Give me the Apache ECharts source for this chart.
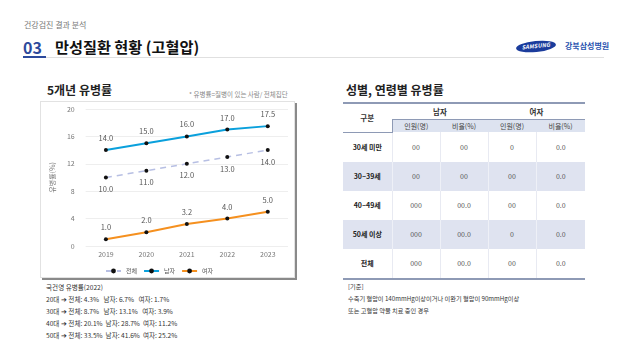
<!DOCTYPE html>
<html><head><meta charset="utf-8">
<script src="https://cdn.jsdelivr.net/npm/echarts@6/dist/echarts.min.js"></script>
<style>
html,body{margin:0;padding:0;width:625px;height:356px;background:#fff;overflow:hidden;font-family:"Noto Sans CJK KR","Noto Sans",sans-serif;}
.abs{position:absolute;white-space:nowrap;}
#chart{position:absolute;left:40px;top:101px;width:253px;height:175px;border:1px solid #e2e2e2;box-shadow:2px 2px 0 #8a8a8a;background:#fff;}
table{border-collapse:collapse;position:absolute;left:343px;top:102px;width:242px;table-layout:fixed;font-size:7px;color:#555;}
td{text-align:center;padding:0;}
.hd1 td{height:15px;font-weight:bold;color:#333;font-size:7.5px;}
.hd2 td{height:12px;background:#dde3f0;color:#444;border-top:1.5px solid #8e9ab5;font-size:7px;}
.row td{height:29px;color:#555;}
.row td.lab{font-weight:bold;color:#222;}
.row td+td{border-left:1px solid #e8eaf2;}
.sh td{background:#dfe3f0;}
.sh td+td{border-left:1px solid #eef0f7;}
.note{font-size:6.8px;color:#333;}
</style></head><body>
<div class="abs" style="left:24px;top:19px;font-size:8px;color:#777;">건강검진 결과 분석</div>
<div class="abs" style="left:23px;top:35px;font-size:16px;font-weight:bold;color:#2c4a9c;">03</div>
<div class="abs" style="left:55px;top:35px;font-size:15.2px;font-weight:bold;color:#111;">만성질환 현황 (고혈압)</div>
<div class="abs" style="left:23px;top:56px;width:23px;height:2px;background:#2c4a9c;"></div>
<div class="abs" style="left:46px;top:56.5px;width:558px;height:1px;background:#e0e0e0;"></div>
<div class="abs" style="left:516px;top:41px;width:40px;height:11px;border-radius:50%;background:#1b3c9c;transform:rotate(-6deg);color:#fff;font-size:5.5px;font-weight:bold;font-style:italic;text-align:center;line-height:11px;letter-spacing:0.2px;">SAMSUNG</div>
<div class="abs" style="left:565px;top:40px;font-size:8px;font-weight:bold;color:#2b55b0;">강북삼성병원</div>

<div class="abs" style="left:47px;top:81px;font-size:12px;font-weight:bold;color:#222;">5개년 유병률</div>
<div class="abs" style="left:189px;top:89px;font-size:6.5px;color:#888;">* 유병률=질병이 있는 사람/ 전체집단</div>
<div class="abs" style="left:346px;top:81px;font-size:12px;font-weight:bold;color:#222;">성별, 연령별 유병률</div>

<div id="chart"></div>

<div id="notesL"></div>
<div id="notesR"></div>
<table id="tbl"></table>

<script>
const categories = ['2019','2020','2021','2022','2023'];
const seriesNames = ['전체','남자','여자'];
const totalValues = [10.0, 11.0, 12.0, 13.0, 14.0];
const maleValues = [14.0, 15.0, 16.0, 17.0, 17.5];
const femaleValues = [1.0, 2.0, 3.2, 4.0, 5.0];
const yTicks = [0, 4, 8, 12, 16, 20];

const tableHeaderGroups = ['남자','여자'];
const tableSubHeaders = ['인원(명)','비율(%)','인원(명)','비율(%)'];
const tableRowLabels = ['30세 미만','30~39세','40~49세','50세 이상','전체'];
const tableValues = [
  ['00','00','0','0.0'],
  ['00','00','00','0.0'],
  ['000','00.0','00','0.0'],
  ['000','00.0','0','0.0'],
  ['000','00.0','00','0.0']
];
const notesLeft = ['국건영 유병률(2022)',
  '20대 ➔ 전체: 4.3%   남자: 6.7%   여자: 1.7%',
  '30대 ➔ 전체: 8.7%   남자: 13.1%   여자: 3.9%',
  '40대 ➔ 전체: 20.1%  남자: 28.7%  여자: 11.2%',
  '50대 ➔ 전체: 33.5%  남자: 41.6%  여자: 25.2%'];
const notesRight = ['[기준]',
  '수축기 혈압이 140mmHg이상이거나 이완기 혈압이 90mmHg이상',
  '또는 고혈압 약물 치료 중인 경우'];

// table
let h = '<colgroup><col style="width:49px"><col style="width:48px"><col style="width:48px"><col style="width:48px"><col style="width:49px"></colgroup>';
h += '<tr class="hd1"><td rowspan="2" style="border-top:2px solid #8e9ab5;border-bottom:1.5px solid #8e9ab5;color:#333;">구분</td>'
  + tableHeaderGroups.map(g=>'<td colspan="2" style="border-top:2px solid #8e9ab5;">'+g+'</td>').join('') + '</tr>';
h += '<tr class="hd2">' + tableSubHeaders.map((s,i)=>'<td'+(i==0?' style="border-left:1.5px solid #8e9ab5"':'')+'>'+s+'</td>').join('') + '</tr>';
tableRowLabels.forEach((lab,r)=>{
  const last = r===tableRowLabels.length-1;
  h += '<tr class="row'+(r%2==1?' sh':'')+'"'+'><td class="lab"'+(last?' style="border-bottom:2px solid #8e9ab5"':'')+'>'+lab+'</td>'
    + tableValues[r].map(v=>'<td'+(last?' style="border-bottom:2px solid #8e9ab5"':'')+'>'+v+'</td>').join('') + '</tr>';
});
document.getElementById('tbl').innerHTML = h;

function notes(el, arr, left, fs){
  el.innerHTML = arr.map((t,i)=>'<div class="abs note" style="font-size:'+fs+'px;left:'+left+'px;top:'+(282+i*12)+'px;">'+t.replace(/ /g,'&nbsp;')+'</div>').join('');
}
notes(document.getElementById('notesL'), notesLeft, 46, 6.6);
notes(document.getElementById('notesR'), notesRight, 348, 6.2);

const chart = echarts.init(document.getElementById('chart'));
const lblStyle = {show:true, fontSize:7.5, color:'#555', formatter:p=>p.value.toFixed(1)};
chart.setOption({
  animation:false,
  textStyle:{fontFamily:'"Noto Sans CJK KR","Noto Sans",sans-serif'},
  grid:{left:35, right:6, top:7, bottom:31},
  legend:{
    data:seriesNames, top:161, left:59, itemWidth:15, itemHeight:6, itemGap:6,
    textStyle:{fontSize:6, color:'#555'}
  },
  xAxis:{
    type:'category', data:categories, boundaryGap:true,
    axisLine:{show:false}, axisTick:{show:false},
    axisLabel:{fontSize:7, color:'#777', margin:5}
  },
  yAxis:{
    type:'value', min:yTicks[0], max:yTicks[yTicks.length-1], interval:yTicks[1]-yTicks[0],
    name:'유병률(%)', nameLocation:'middle', nameGap:19, nameRotate:90,
    nameTextStyle:{fontSize:7, color:'#777'},
    axisLine:{show:false}, axisTick:{show:false},
    axisLabel:{fontSize:7, color:'#777', margin:11},
    splitLine:{lineStyle:{color:'#eeeeee', width:1}}
  },
  series:[
    {name:seriesNames[0], type:'line', data:totalValues, symbol:'circle', symbolSize:4,
     itemStyle:{color:'#111'}, lineStyle:{color:'#b7bfe3', width:1.5, type:[6,5]},
     label:Object.assign({}, lblStyle, {position:'bottom', distance:6}), z:2},
    {name:seriesNames[1], type:'line', data:maleValues, symbol:'circle', symbolSize:4,
     itemStyle:{color:'#111'}, lineStyle:{color:'#0aa0dc', width:2},
     label:Object.assign({}, lblStyle, {position:'top', distance:6}), z:3},
    {name:seriesNames[2], type:'line', data:femaleValues, symbol:'circle', symbolSize:4,
     itemStyle:{color:'#111'}, lineStyle:{color:'#f5901f', width:2},
     label:Object.assign({}, lblStyle, {position:'top', distance:6}), z:3}
  ]
});
</script>
</body></html>
